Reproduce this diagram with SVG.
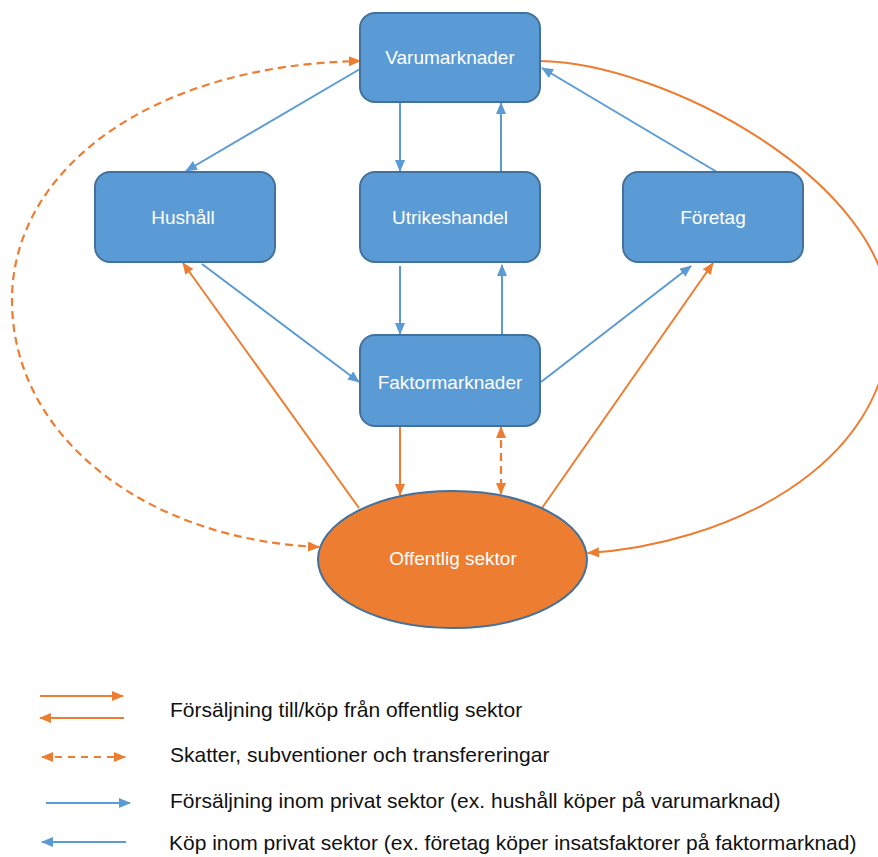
<svg xmlns="http://www.w3.org/2000/svg" width="878" height="857" viewBox="0 0 878 857">
<style>
.box{fill:#5B9BD5;stroke:#41719C;stroke-width:2}
.ell{fill:#ED7D31;stroke:#41719C;stroke-width:2}
.lbl{font-family:"Liberation Sans",Arial,sans-serif;font-size:19px;fill:#fff;text-anchor:middle}
.leg{font-family:"Liberation Sans",Arial,sans-serif;font-size:21px;fill:#111}
.b{fill:none;stroke:#5B9BD5;stroke-width:2;marker-end:url(#ab)}
.o{fill:none;stroke:#ED7D31;stroke-width:2;marker-end:url(#ao)}
.od{fill:none;stroke:#ED7D31;stroke-width:2.2;stroke-dasharray:8 5;marker-start:url(#ao);marker-end:url(#ao)}
</style>
<defs>
<marker id="ab" viewBox="0 0 12 10" refX="11" refY="5" markerWidth="12" markerHeight="10" markerUnits="userSpaceOnUse" orient="auto-start-reverse"><path d="M0,0 L12,5 L0,10z" fill="#5B9BD5"/></marker>
<marker id="ao" viewBox="0 0 12 10" refX="11" refY="5" markerWidth="12" markerHeight="10" markerUnits="userSpaceOnUse" orient="auto-start-reverse"><path d="M0,0 L12,5 L0,10z" fill="#ED7D31"/></marker>
</defs>
<rect width="878" height="857" fill="#fff"/>
<g id="connectors">
<path class="b" d="M360,69 L186,171"/>
<path class="b" d="M400,102 L400,171"/>
<path class="b" d="M501,172 L501,103"/>
<path class="b" d="M400,266 L400,334"/>
<path class="b" d="M502,335 L502,265"/>
<path class="b" d="M202,264 L359,382"/>
<path class="b" d="M541,382 L691,266"/>
<path class="b" d="M717,172 L542,68"/>
<path class="o" d="M359,508 L183,263"/>
<path class="o" d="M542,508 L713,263"/>
<path class="o" d="M400,426 L400,495"/>
<path class="od" d="M501,427 L501,494"/>
<path class="od" d="M319,547 C150,540 12,440 12,300 C12,170 150,65 360,61"/>
<path class="o" d="M540,61 C660,62 890,180 890,320 C890,470 720,545 588,553"/>
</g>
<g id="varumarknader"><rect class="box" x="360" y="13" width="180" height="89" rx="15"/><text class="lbl" x="450" y="64">Varumarknader</text></g>
<g id="hushall"><rect class="box" x="95" y="172" width="180" height="90" rx="15"/><text class="lbl" x="183" y="224">Hushåll</text></g>
<g id="utrikeshandel"><rect class="box" x="360" y="172" width="180" height="90" rx="15"/><text class="lbl" x="450" y="224">Utrikeshandel</text></g>
<g id="foretag"><rect class="box" x="623" y="172" width="180" height="90" rx="15"/><text class="lbl" x="713" y="224">Företag</text></g>
<g id="faktormarknader"><rect class="box" x="360" y="335" width="180" height="91" rx="15"/><text class="lbl" x="450" y="389">Faktormarknader</text></g>
<g id="offentlig"><ellipse class="ell" cx="452.5" cy="559.5" rx="134.5" ry="68.5"/><text class="lbl" x="453" y="565">Offentlig sektor</text></g>
<g id="legend">
<path class="o" d="M40,696 L123,696"/>
<path class="o" d="M124,718 L40,718"/>
<path class="od" d="M42,757 L125,757" style="stroke-dasharray:7 6"/>
<path class="b" d="M46,803 L130,803"/>
<path class="b" d="M126,842 L42,842"/>
<text class="leg" x="170" y="717">Försäljning till/köp från offentlig sektor</text>
<text class="leg" x="170" y="762">Skatter, subventioner och transfereringar</text>
<text class="leg" x="170" y="808">Försäljning inom privat sektor (ex. hushåll köper på varumarknad)</text>
<text class="leg" x="169" y="850">Köp inom privat sektor (ex. företag köper insatsfaktorer på faktormarknad)</text>
</g>
</svg>
